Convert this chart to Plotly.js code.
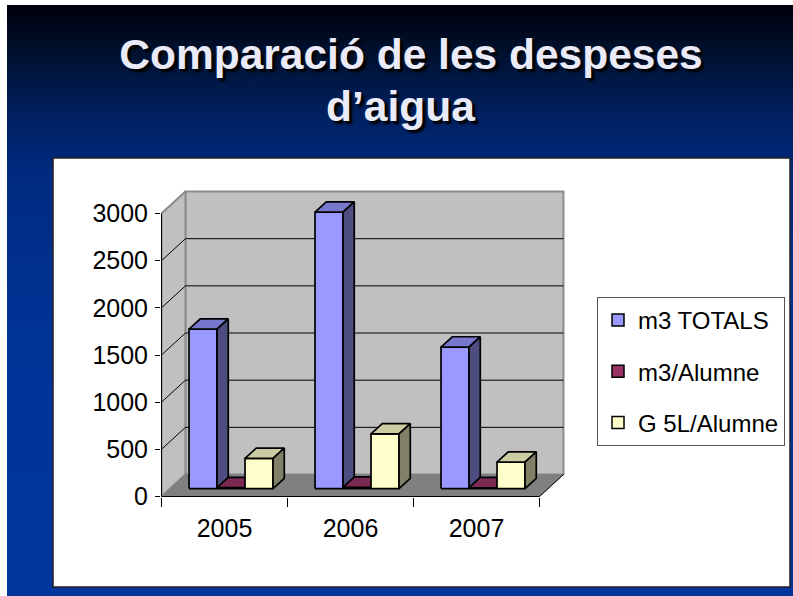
<!DOCTYPE html>
<html><head><meta charset="utf-8">
<script src="https://cdn.plot.ly/plotly-3.0.1.min.js"></script>
<style>
html,body{margin:0;padding:0;background:#fff;}
#wrap{position:relative;width:793px;height:596px;overflow:hidden;background:#fff;}
#bg{position:absolute;left:7px;top:5px;right:0;bottom:0;
 background:linear-gradient(to bottom,#00000c 0%,#00112e 8%,#001f5c 18%,#002a80 28%,#003396 55%,#00369e 100%);}
#chart{position:absolute;left:0;top:0;width:793px;height:596px;}
</style></head><body>
<div id="wrap"><div id="bg"></div><div id="chart"></div></div>
<script>
// ---- data ----
const years = ['2005', '2006', '2007'];
const seriesNames = ['m3 TOTALS', 'm3/Alumne', 'G 5L/Alumne'];
const m3Totals = [1690, 2930, 1500];
const m3Alumne = [10, 14, 9];
const g5lAlumne = [320, 580, 280];
const yTickVals = [0, 500, 1000, 1500, 2000, 2500, 3000];
const yTop = 3000;
const titleLine1 = 'Comparació de les despeses';
const titleLine2 = 'd’aigua';

// ---- styles / geometry ----
const W = 793, H = 596;
const M = {l: 161, r: 3, t: 185, b: 99};
const plotW = W - M.l - M.r, plotH = H - M.t - M.b;
const KX = 126, KY = 283 / 3000;
const xmin = -0.5 - 0.5 / KX, xmax = xmin + plotW / KX;
const ymin = -0.5 / KY, ymax = ymin + plotH / KY;
const DX = 0.19, DY = 233;          // wall depth in data units
const D1 = 0.36, D2 = 0.83;         // bar front/back depth fraction
const BW = 2 / 9, G0 = -0.35;       // bar width, group start offset
const faceColors = [
  {front: '#9999ff', top: '#7777cc', side: '#4d4d80'},
  {front: '#993366', top: '#7a2952', side: '#4d1a33'},
  {front: '#ffffcc', top: '#cccca3', side: '#808066'}
];
const seriesVals = [m3Totals, m3Alumne, g5lAlumne];
const nCat = years.length;
const catBounds = [];
for (let i = 0; i <= nCat; i++) catBounds.push(i - 0.5);

function addPoly(acc, pts) {
  pts.forEach(p => { acc.x.push(p[0]); acc.y.push(p[1]); });
  acc.x.push(pts[0][0]); acc.y.push(pts[0][1]);
  acc.x.push(null); acc.y.push(null);
}
function polyTrace(acc, fill, lineColor, lw) {
  return {type: 'scatter', mode: 'lines', x: acc.x, y: acc.y, fill: 'toself',
    fillcolor: fill, line: {color: lineColor, width: lw}, hoverinfo: 'skip', showlegend: false};
}
function lineTrace(acc, color, lw) {
  return {type: 'scatter', mode: 'lines', x: acc.x, y: acc.y,
    line: {color: color, width: lw}, hoverinfo: 'skip', showlegend: false};
}

const traces = [];
const xL = -0.5, xR = nCat - 0.5;
// walls
const back = {x: [], y: []}, side = {x: [], y: []}, floor = {x: [], y: []};
addPoly(back, [[xL + DX, DY], [xR + DX, DY], [xR + DX, yTop + DY], [xL + DX, yTop + DY]]);
addPoly(side, [[xL, 0], [xL + DX, DY], [xL + DX, yTop + DY], [xL, yTop]]);
addPoly(floor, [[xL, 0], [xR, 0], [xR + DX, DY], [xL + DX, DY]]);
traces.push(polyTrace(back, '#c0c0c0', '#8c8c8c', 2));
traces.push(polyTrace(side, '#c0c0c0', '#8c8c8c', 2));
// gridlines
const grid = {x: [], y: []};
yTickVals.filter(v => v > 0 && v < yTop).forEach(v => {
  grid.x.push(xL, xL + DX, xR + DX, null);
  grid.y.push(v, v + DY, v + DY, null);
});
traces.push(lineTrace(grid, '#000', 1));
traces.push(polyTrace(floor, '#808080', '#808080', 1));
// front edges
const edges = {x: [xL, xL, null, xL, xR, xR + DX, null], y: [yTop, 0, null, 0, 0, DY, null]};
traces.push(lineTrace(edges, '#000', 1));

// 3D bars
seriesVals.forEach((vals, s) => {
  const fr = {x: [], y: []}, tp = {x: [], y: []}, sd = {x: [], y: []};
  vals.forEach((v, i) => {
    const x0 = i + G0 + s * BW, x1 = x0 + BW;
    const ox1 = D1 * DX, oy1 = D1 * DY, ox2 = D2 * DX, oy2 = D2 * DY;
    addPoly(fr, [[x0 + ox1, oy1], [x1 + ox1, oy1], [x1 + ox1, v + oy1], [x0 + ox1, v + oy1]]);
    addPoly(tp, [[x0 + ox1, v + oy1], [x1 + ox1, v + oy1], [x1 + ox2, v + oy2], [x0 + ox2, v + oy2]]);
    addPoly(sd, [[x1 + ox1, oy1], [x1 + ox2, oy2], [x1 + ox2, v + oy2], [x1 + ox1, v + oy1]]);
  });
  traces.push(polyTrace(fr, faceColors[s].front, '#000', 1.7));
  traces.push(polyTrace(tp, faceColors[s].top, '#000', 1.7));
  traces.push(polyTrace(sd, faceColors[s].side, '#000', 1.7));
});

// legend entries
seriesNames.forEach((n, s) => {
  traces.push({type: 'bar', x: [null], y: [null], name: n, legendgroup: 'g' + s,
    marker: {color: faceColors[s].front, line: {color: '#000', width: 1.5}}, hoverinfo: 'skip'});
});

const px2paperX = px => (px - M.l) / plotW;
const px2paperY = py => (H - M.b - py) / plotH;
const titleFont = {family: 'Arial, "Liberation Sans", sans-serif', size: 42.5, color: '#eaeaf8', weight: 700,
  shadow: '3px 3px 2px #000000'};

const layout = {
  width: W, height: H, margin: M,
  paper_bgcolor: 'rgba(0,0,0,0)', plot_bgcolor: 'rgba(0,0,0,0)',
  showlegend: true, hovermode: false,
  font: {family: 'Arial, "Liberation Sans", sans-serif', color: '#000'},
  title: {
    text: titleLine1, font: titleFont,
    x: 411 / W, xanchor: 'center', xref: 'container',
    y: 1 - 39 / H, yanchor: 'top', yref: 'container'
  },
  annotations: [{text: titleLine2, font: titleFont, showarrow: false,
    xref: 'paper', yref: 'paper', x: px2paperX(400), y: px2paperY(106),
    xanchor: 'center', yanchor: 'middle'}],
  xaxis: {type: 'linear', range: [xmin, xmax], tickvals: [0, 1, 2], ticktext: years,
    ticks: '', showgrid: false, zeroline: false, showline: false, fixedrange: true,
    tickfont: {size: 25, color: '#000'}, ticklabelstandoff: 14,
    minor: {tickmode: 'array', tickvals: catBounds, ticks: 'outside', ticklen: 9,
      tickcolor: '#000', tickwidth: 1, showgrid: false}},
  yaxis: {type: 'linear', range: [ymin, ymax], tickvals: yTickVals,
    ticks: 'outside', ticklen: 5, tickcolor: '#000', tickwidth: 1,
    showgrid: false, zeroline: false, showline: false, fixedrange: true,
    tickfont: {size: 25, color: '#000'}, ticklabelstandoff: 2},
  legend: {x: px2paperX(597), xanchor: 'left', y: px2paperY(297), yanchor: 'top',
    bgcolor: '#ffffff', bordercolor: '#555', borderwidth: 1,
    font: {size: 24, color: '#000'}, traceorder: 'grouped', tracegroupgap: 17},
  shapes: [{type: 'rect', xref: 'paper', yref: 'paper', layer: 'below',
    x0: px2paperX(53), x1: px2paperX(790), y0: px2paperY(587), y1: px2paperY(158),
    fillcolor: '#ffffff', line: {color: '#222', width: 1.5}}]
};
Plotly.newPlot('chart', traces, layout, {displayModeBar: false, staticPlot: true});
</script>
</body></html>
